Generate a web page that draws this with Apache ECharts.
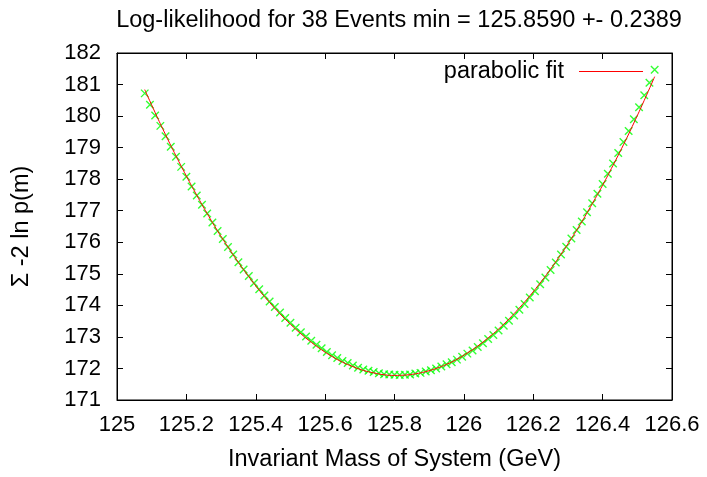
<!DOCTYPE html>
<html>
<head>
<meta charset="utf-8">
<title>Log-likelihood</title>
<script src="https://cdn.jsdelivr.net/npm/echarts@6/dist/echarts.min.js"></script>
<style>
  html, body { margin: 0; padding: 0; background: #fff; }
  #main { width: 707px; height: 477px; }
</style>
</head>
<body>
<div id="main"></div>
<script>
// scanned mass points (GeV)
var massPoints = [
  125.08, 125.095, 125.11, 125.125, 125.14, 125.155, 125.17, 125.185, 125.20, 125.215,
  125.23, 125.245, 125.26, 125.275, 125.29, 125.305, 125.32, 125.335, 125.35, 125.365,
  125.38, 125.395, 125.41, 125.425, 125.44, 125.455, 125.47, 125.485, 125.50, 125.515,
  125.53, 125.545, 125.56, 125.575, 125.59, 125.605, 125.62, 125.635, 125.65, 125.665,
  125.68, 125.695, 125.71, 125.725, 125.74, 125.755, 125.77, 125.785, 125.80, 125.815,
  125.83, 125.845, 125.86, 125.875, 125.89, 125.905, 125.92, 125.935, 125.95, 125.965,
  125.98, 125.995, 126.01, 126.025, 126.04, 126.055, 126.07, 126.085, 126.10, 126.115,
  126.13, 126.145, 126.16, 126.175, 126.19, 126.205, 126.22, 126.235, 126.25, 126.265,
  126.28, 126.295, 126.31, 126.325, 126.34, 126.355, 126.37, 126.385, 126.40, 126.415,
  126.43, 126.445, 126.46, 126.475, 126.49, 126.505, 126.52, 126.535, 126.55
];

// sum of -2 ln p(m) at each mass point
var sumLogLik = [
  180.72, 180.36, 180.02, 179.69, 179.36, 179.03, 178.71, 178.39, 178.08, 177.77,
  177.48, 177.19, 176.91, 176.63, 176.36, 176.10, 175.85, 175.61, 175.37, 175.14,
  174.93, 174.71, 174.51, 174.31, 174.12, 173.95, 173.77, 173.60, 173.45, 173.29,
  173.15, 173.01, 172.88, 172.75, 172.64, 172.52, 172.42, 172.33, 172.24, 172.17,
  172.09, 172.02, 171.97, 171.93, 171.89, 171.85, 171.82, 171.81, 171.80, 171.79,
  171.80, 171.81, 171.84, 171.86, 171.90, 171.94, 172.00, 172.06, 172.13, 172.20,
  172.28, 172.37, 172.47, 172.57, 172.68, 172.80, 172.93, 173.06, 173.20, 173.35,
  173.51, 173.68, 173.86, 174.04, 174.25, 174.45, 174.67, 174.88, 175.12, 175.36,
  175.61, 175.86, 176.12, 176.39, 176.66, 176.95, 177.24, 177.54, 177.85, 178.17,
  178.50, 178.83, 179.18, 179.53, 179.90, 180.28, 180.66, 181.06, 181.47
];

// parabolic fit curve
var fitMass = [
  125.08, 125.11, 125.14, 125.17, 125.20, 125.23, 125.26, 125.29, 125.32, 125.35,
  125.38, 125.41, 125.44, 125.47, 125.50, 125.53, 125.56, 125.59, 125.62, 125.65,
  125.68, 125.71, 125.74, 125.77, 125.80, 125.83, 125.86, 125.89, 125.92, 125.95,
  125.98, 126.01, 126.04, 126.07, 126.10, 126.13, 126.16, 126.19, 126.22, 126.25,
  126.28, 126.31, 126.34, 126.37, 126.40, 126.43, 126.46, 126.49, 126.52, 126.55
];
var fitValues = [
  180.84, 180.11, 179.41, 178.74, 178.10, 177.49, 176.91, 176.36, 175.85, 175.36,
  174.91, 174.48, 174.09, 173.73, 173.40, 173.10, 172.83, 172.59, 172.38, 172.20,
  172.06, 171.94, 171.86, 171.80, 171.78, 171.79, 171.83, 171.90, 172.00, 172.13,
  172.29, 172.49, 172.71, 172.97, 173.25, 173.57, 173.92, 174.30, 174.71, 175.15,
  175.62, 176.12, 176.65, 177.22, 177.81, 178.44, 179.09, 179.78, 180.50, 181.25
];

var chartTitle = 'Log-likelihood for 38 Events min = 125.8590 +- 0.2389';
var xName = 'Invariant Mass of System (GeV)';
var yName = '\u03a3 -2 ln p(m)';
var fitName = 'parabolic fit';

var FONT = '"Liberation Sans", Arial, Helvetica, sans-serif';

var scatterData = massPoints.map(function (m, i) { return [m, sumLogLik[i]]; });
var fitData = fitMass.map(function (m, i) { return [m, fitValues[i]]; });

var chart = echarts.init(document.getElementById('main'));

var tickIn = { show: true, inside: true, length: 6, lineStyle: { color: '#000', width: 1 } };

chart.setOption({
  animation: false,
  backgroundColor: '#fff',
  textStyle: { fontFamily: FONT, color: '#000' },
  title: {
    text: chartTitle,
    left: 394, top: 4, textAlign: 'center',
    textStyle: { fontFamily: FONT, fontSize: 23.5, fontWeight: 'normal', color: '#000' }
  },
  legend: {
    data: [{ name: fitName, icon: 'rect' }],
    right: 64, top: 59.5, padding: 0,
    align: 'right',
    itemWidth: 64, itemHeight: 1,
    textStyle: { fontFamily: FONT, fontSize: 23.5, color: '#000', padding: [0, 10, 0, 0] },
    selectedMode: false
  },
  grid: {
    left: 117, right: 35, top: 53, bottom: 71.5,
    show: true, borderColor: '#000', borderWidth: 1
  },
  xAxis: [{
    type: 'value', min: 125, max: 126.6, interval: 0.2,
    name: xName, nameLocation: 'middle', nameGap: 48,
    nameTextStyle: { fontFamily: FONT, fontSize: 23.5, color: '#000' },
    axisLine: { show: true, lineStyle: { color: '#000', width: 1 } },
    axisTick: tickIn,
    axisLabel: { fontFamily: FONT, fontSize: 22, color: '#000', margin: 14 },
    splitLine: { show: false }
  }, {
    type: 'value', position: 'top', min: 125, max: 126.6, interval: 0.2,
    axisLine: { show: true, lineStyle: { color: '#000', width: 1 } },
    axisTick: tickIn,
    axisLabel: { show: false },
    splitLine: { show: false }
  }],
  yAxis: [{
    type: 'value', min: 171, max: 182, interval: 1,
    name: yName, nameLocation: 'middle', nameGap: 83, nameRotate: 90,
    nameTextStyle: { fontFamily: FONT, fontSize: 23.5, color: '#000' },
    axisLine: { show: true, lineStyle: { color: '#000', width: 1 } },
    axisTick: tickIn,
    axisLabel: { fontFamily: FONT, fontSize: 22, color: '#000', margin: 16 },
    splitLine: { show: false }
  }, {
    type: 'value', position: 'right', min: 171, max: 182, interval: 1,
    axisLine: { show: true, lineStyle: { color: '#000', width: 1 } },
    axisTick: tickIn,
    axisLabel: { show: false },
    splitLine: { show: false }
  }],
  series: [{
    name: 'data',
    type: 'scatter',
    data: scatterData,
    symbol: 'path://M0,0L10,10M10,0L0,10',
    symbolSize: 7.5,
    itemStyle: { color: '#00ff00', borderColor: '#00ff00', borderWidth: 1.4 },
    emphasis: { disabled: true },
    z: 2
  }, {
    name: fitName,
    type: 'line',
    data: fitData,
    smooth: true,
    showSymbol: false,
    symbol: 'none',
    lineStyle: { color: '#ff0000', width: 1 },
    itemStyle: { color: '#ff0000' },
    emphasis: { disabled: true },
    z: 3
  }]
});
</script>
</body>
</html>
